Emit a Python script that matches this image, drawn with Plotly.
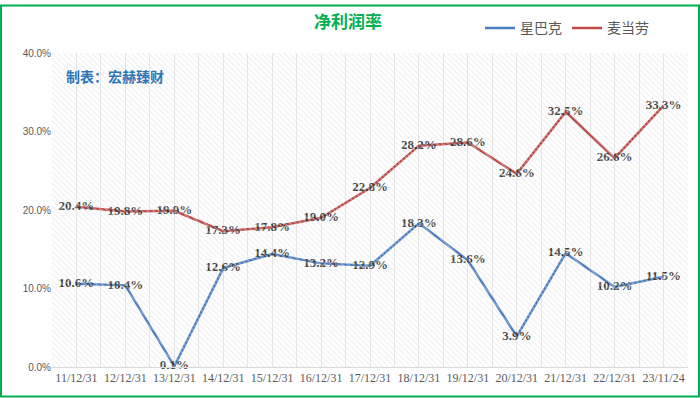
import plotly.graph_objects as go

categories = ["11/12/31", "12/12/31", "13/12/31", "14/12/31", "15/12/31", "16/12/31", "17/12/31",
              "18/12/31", "19/12/31", "20/12/31", "21/12/31", "22/12/31", "23/11/24"]
starbucks = [10.6, 10.4, 0.1, 12.6, 14.4, 13.2, 12.9, 18.3, 13.6, 3.9, 14.5, 10.2, 11.5]
mcdonalds = [20.4, 19.8, 19.9, 17.3, 17.8, 19.0, 22.8, 28.2, 28.6, 24.6, 32.5, 26.6, 33.3]
y_ticks = [0, 10, 20, 30, 40]
y_tick_labels = ["0.0%", "10.0%", "20.0%", "30.0%", "40.0%"]

W, H = 700, 398
L, R, T, B = 52, 12, 49, 31
pw, ph = W - L - R, H - T - B

fig = go.Figure()

# hatched background
fig.add_trace(go.Bar(
    x=[13], y=[1], width=[26], xaxis="x2", yaxis="y2",
    marker=dict(color="rgba(0,0,0,0)", line=dict(width=0),
                pattern=dict(shape="\\", fgcolor="#E2E2E2", bgcolor="rgba(0,0,0,0)", size=4, solidity=0.3)),
    showlegend=False, hoverinfo="skip",
))

label_font = dict(family="Liberation Serif", size=13, color="#3A3A3A")

fig.add_trace(go.Scatter(
    x=categories, y=starbucks, name="星巴克", mode="lines+text",
    line=dict(color="#4A7EC2", width=2.5), cliponaxis=False,
    text=[f"<b>{v:.1f}%</b>" for v in starbucks], textposition="middle center",
    textfont=label_font,
))
fig.add_trace(go.Scatter(
    x=categories, y=mcdonalds, name="麦当劳", mode="lines+text",
    line=dict(color="#BE4B48", width=2.5), cliponaxis=False,
    text=[f"<b>{v:.1f}%</b>" for v in mcdonalds], textposition="middle center",
    textfont=label_font,
))

fig.update_layout(
    width=W, height=H,
    margin=dict(l=L, r=R, t=T, b=B),
    paper_bgcolor="white", plot_bgcolor="white",
    title=dict(text="<b>净利润率</b>", x=0.497, xanchor="center", y=1 - 22 / H, yanchor="middle",
               font=dict(family="Noto Sans CJK SC", size=17, color="#00B050")),
    legend=dict(orientation="h", x=(480 - L) / pw, xanchor="left", y=(H - B - 24) / ph, yanchor="middle",
                font=dict(family="Noto Sans CJK SC", size=14, color="#595959"),
                bgcolor="rgba(0,0,0,0)", itemwidth=30, tracegroupgap=0),
    xaxis=dict(type="category", range=[-0.5, 12.5], showgrid=False, zeroline=False,
               showline=True, linecolor="#D9D9D9", linewidth=1, ticks="",
               tickfont=dict(family="Liberation Serif", size=12, color="#595959")),
    yaxis=dict(range=[0, 40], tickvals=y_ticks, ticktext=y_tick_labels, showgrid=False, zeroline=False,
               showline=False, ticks="",
               tickfont=dict(family="Liberation Sans", size=10, color="#595959")),
    xaxis2=dict(overlaying="x", range=[0, 26], dtick=1, tick0=0, showgrid=True, gridcolor="#E6E6E6",
                showticklabels=False, zeroline=False, anchor="y2", side="bottom"),
    yaxis2=dict(overlaying="y", range=[0, 1], showgrid=False, showticklabels=False, zeroline=False,
                anchor="x2"),
    bargap=0,
    showlegend=True,
    annotations=[dict(text="<b>制表：宏赫臻财</b>", xref="paper", yref="paper",
                      x=(64 - L) / pw, y=(H - B - 72) / ph, xanchor="left", yanchor="middle",
                      showarrow=False,
                      font=dict(family="Noto Sans CJK SC", size=14, color="#2E75B6"))],
    shapes=[dict(type="rect", xref="paper", yref="paper",
                 x0=(1 - L) / pw, x1=(W - 1 - L) / pw,
                 y0=(H - B - (H - 1)) / ph, y1=(H - B - 1) / ph,
                 line=dict(color="#00B050", width=2), fillcolor="rgba(0,0,0,0)", layer="above")],
)

fig.write_html("out.html", config={"displayModeBar": False},
               post_script="document.body.style.margin='0';")
